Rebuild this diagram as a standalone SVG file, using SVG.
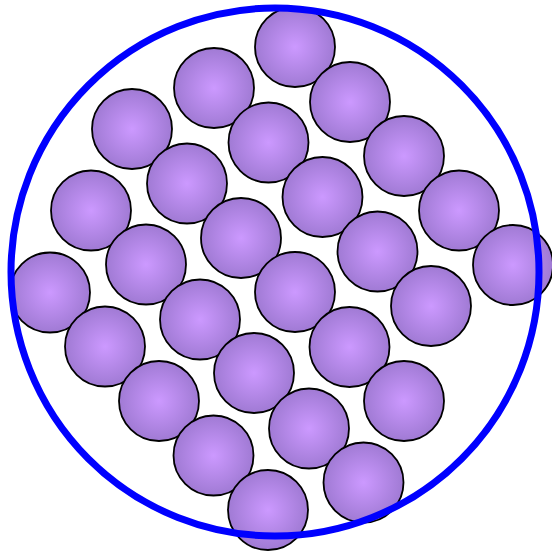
<svg xmlns="http://www.w3.org/2000/svg" width="552" height="554" viewBox="0 0 552 554">
<defs>
<radialGradient id="g" cx="50%" cy="50%" r="50%">
<stop offset="0" stop-color="#cc99ff"/>
<stop offset="1" stop-color="#a07ad4"/>
</radialGradient>
<style>
.b{fill:url(#g);stroke:#000;stroke-width:1.8}
.o{fill:none;stroke:#0000ff;stroke-width:7}
</style>
</defs>
<g id="balls">
<circle class="b" cx="295" cy="47" r="40"/>
<circle class="b" cx="214" cy="88" r="40"/>
<circle class="b" cx="350" cy="102" r="40"/>
<circle class="b" cx="132" cy="129" r="40"/>
<circle class="b" cx="268.5" cy="142.5" r="40"/>
<circle class="b" cx="404" cy="156" r="40"/>
<circle class="b" cx="187" cy="183.5" r="40"/>
<circle class="b" cx="322.5" cy="197" r="40"/>
<circle class="b" cx="459" cy="210.5" r="40"/>
<circle class="b" cx="91" cy="210.5" r="40"/>
<circle class="b" cx="241" cy="238" r="40"/>
<circle class="b" cx="377.5" cy="251.5" r="40"/>
<circle class="b" cx="513" cy="265" r="40"/>
<circle class="b" cx="146" cy="264.5" r="40"/>
<circle class="b" cx="50" cy="292.5" r="40"/>
<circle class="b" cx="295" cy="292" r="40"/>
<circle class="b" cx="431" cy="306" r="40"/>
<circle class="b" cx="200" cy="319.5" r="40"/>
<circle class="b" cx="105" cy="346.5" r="40"/>
<circle class="b" cx="349.5" cy="347" r="40"/>
<circle class="b" cx="254" cy="373" r="40"/>
<circle class="b" cx="404" cy="401" r="40"/>
<circle class="b" cx="159" cy="401" r="40"/>
<circle class="b" cx="309" cy="428.5" r="40"/>
<circle class="b" cx="213.5" cy="455.5" r="40"/>
<circle class="b" cx="363.5" cy="482.5" r="40"/>
<circle class="b" cx="268" cy="510" r="40"/>
</g>
<g id="container">
<circle class="o" cx="275" cy="272" r="264"/>
</g>
</svg>
